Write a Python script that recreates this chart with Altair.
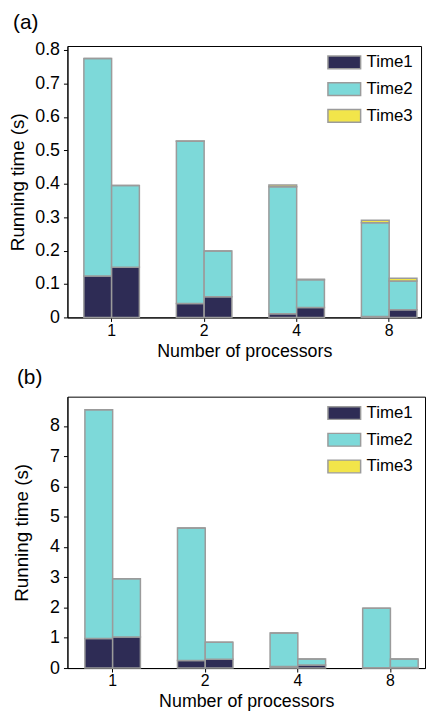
import altair as alt
import pandas as pd

procs = ["1", "2", "4", "8"]
components = ["Time1", "Time2", "Time3"]
colors = ["#2e2c55", "#7dd9d9", "#f2e54a"]

# Panel (a): first bar (left) and second bar (right) of each pair
a_left_t1 = [0.124, 0.042, 0.011, 0.003]
a_left_t2 = [0.651, 0.485, 0.380, 0.280]
a_left_t3 = [0.000, 0.001, 0.005, 0.008]
a_right_t1 = [0.150, 0.062, 0.030, 0.023]
a_right_t2 = [0.245, 0.137, 0.083, 0.086]
a_right_t3 = [0.000, 0.000, 0.001, 0.008]

# Panel (b)
b_left_t1 = [0.98, 0.25, 0.05, 0.01]
b_left_t2 = [7.56, 4.38, 1.11, 1.97]
b_left_t3 = [0.00, 0.00, 0.00, 0.00]
b_right_t1 = [1.03, 0.29, 0.10, 0.02]
b_right_t2 = [1.92, 0.56, 0.20, 0.28]
b_right_t3 = [0.00, 0.00, 0.00, 0.00]

a_ticks = [0, 0.1, 0.2, 0.3, 0.4, 0.5, 0.6, 0.7, 0.8]
b_ticks = [0, 1, 2, 3, 4, 5, 6, 7, 8]


def build(left, right):
    rows = []
    for variant, series in (("L", left), ("R", right)):
        for ci, comp in enumerate(components):
            for pi, p in enumerate(procs):
                rows.append({"procs": p, "variant": variant, "component": comp,
                             "order": ci, "value": series[ci][pi]})
    return pd.DataFrame(rows)


df_a = build((a_left_t1, a_left_t2, a_left_t3), (a_right_t1, a_right_t2, a_right_t3))
df_b = build((b_left_t1, b_left_t2, b_left_t3), (b_right_t1, b_right_t2, b_right_t3))

FONT = "Liberation Sans"


def panel(df, label, ymax, ticks, width, ext, pouter, align):
    return alt.Chart(df).mark_bar(stroke="#9b9b9b", strokeWidth=1.5).encode(
        x=alt.X("procs:N", sort=procs,
                scale=alt.Scale(paddingInner=0.4, paddingOuter=pouter, align=align),
                axis=alt.Axis(title="Number of processors", labelAngle=0,
                              labelPadding=1, titlePadding=4, labelFontSize=16,
                              titleFontSize=18)),
        xOffset=alt.XOffset("variant:N", sort=["L", "R"],
                            scale=alt.Scale(paddingInner=0, paddingOuter=0)),
        y=alt.Y("value:Q", stack="zero",
                scale=alt.Scale(domain=[0, ymax], nice=False),
                axis=alt.Axis(title="Running time (s)", values=ticks, format="~g",
                              labelPadding=4, titlePadding=5, labelFontSize=18,
                              titleFontSize=19, minExtent=ext, maxExtent=ext)),
        color=alt.Color("component:N",
                        scale=alt.Scale(domain=components, range=colors),
                        legend=alt.Legend(title=None, orient="none",
                                          legendX=262, legendY=-1,
                                          symbolType="M-1,-0.39H1V0.39H-1Z",
                                          symbolSize=1089,
                                          symbolStrokeColor="#9b9b9b",
                                          symbolStrokeWidth=1.5,
                                          symbolOpacity=1,
                                          labelFontSize=17, labelFont=FONT,
                                          labelColor="black",
                                          labelOffset=5, rowPadding=-9)),
        order=alt.Order("order:Q"),
    ).properties(
        width=width, height=274,
        title=alt.TitleParams(label, anchor="start", fontSize=21, font=FONT,
                              fontWeight="normal", offset=8, dx=4),
    )


pa = panel(df_a, "(a)", 0.812, a_ticks, 357, 35, 0.111, 0.8)
pb = panel(df_b, "(b)", 8.97, b_ticks, 361, 31, 0.131, 0.72)

chart = alt.vconcat(pa, pb, spacing=5).resolve_scale(
    color="independent"
).resolve_legend(
    color="independent"
).properties(
    padding={"left": 0, "top": 0, "right": 0, "bottom": 0}
).configure_view(
    stroke="black", strokeWidth=1
).configure_axis(
    grid=False, domainColor="black", domainWidth=1, tickColor="black",
    tickSize=4, labelFont=FONT, labelColor="black",
    titleFont=FONT, titleFontWeight="normal", titleColor="black",
)

chart.save("out.html", embed_options={"renderer": "svg", "actions": False})
